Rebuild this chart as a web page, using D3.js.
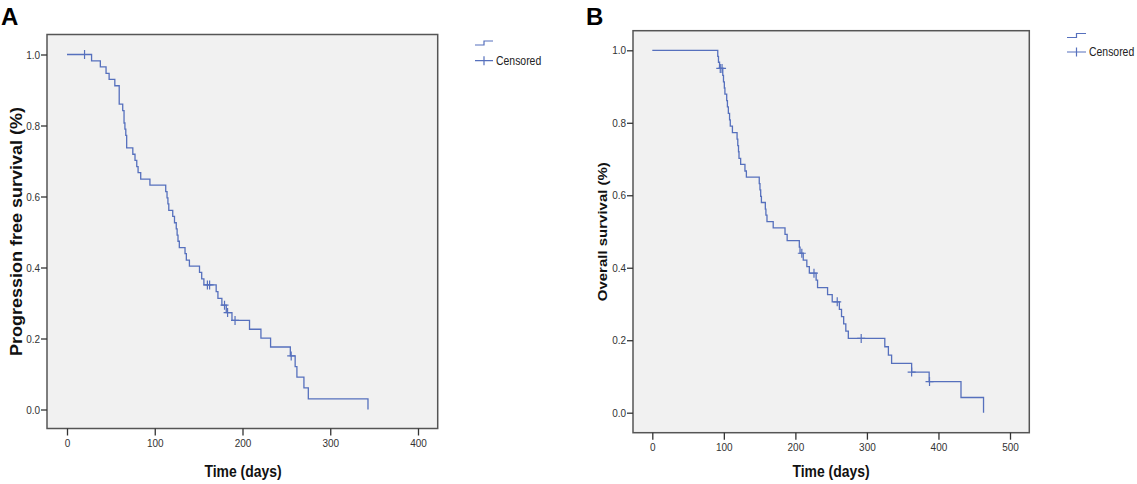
<!DOCTYPE html>
<html>
<head>
<meta charset="utf-8">
<script src="https://cdn.jsdelivr.net/npm/d3@7/dist/d3.min.js"></script>
<style>
  body { margin: 0; background: #fff; }
  svg { display: block; font-family: "Liberation Sans", Arial, sans-serif; }
</style>
</head>
<body>
<svg id="chart" width="1137" height="484"></svg>
<script>
// Panel A: progression free survival, step times (days) and survival after each step
const pfsTimes = [0, 28, 38, 44.5, 48, 54.5, 59.5, 63.5, 65, 66, 67, 68, 75, 77.5, 79.5, 81, 84, 94.5,
  112.5, 114, 115, 116, 120.5, 122.5, 124.5, 125.5, 126.5, 128, 134.5, 136, 139.5, 151, 153.5, 156,
  170, 172, 176.5, 181.5, 188, 208, 221, 232, 254.5, 260, 262, 270, 275, 343];
const pfsSurv = [1.0, 0.982, 0.965, 0.947, 0.930, 0.912, 0.860, 0.842, 0.807, 0.790, 0.772, 0.737, 0.719, 0.702, 0.684, 0.667, 0.649, 0.632,
  0.614, 0.596, 0.579, 0.561, 0.544, 0.526, 0.509, 0.491, 0.474, 0.456, 0.439, 0.421, 0.404, 0.386, 0.368, 0.351,
  0.332, 0.313, 0.294, 0.273, 0.251, 0.226, 0.201, 0.176, 0.151, 0.121, 0.091, 0.061, 0.030, 0.0];
const pfsCensorTimes = [20, 160, 162.5, 179.5, 183, 191.5, 255.5];
const pfsCensorSurv = [1.0, 0.351, 0.351, 0.294, 0.273, 0.251, 0.151];

// Panel B: overall survival
const osTimes = [0, 91.5, 92.5, 94, 98.5, 99.5, 100.7, 101.5, 104, 105, 106.3, 108, 109, 112, 118.5, 119.5, 120.5, 121.2, 123.5,
  129.5, 131.5, 149.5, 150.5, 151.5, 152.5, 158, 158.8, 160.3, 169, 185.5, 188.5, 205.5, 206.5, 211, 216, 219.5,
  229, 231, 245, 251.5, 261.5, 264.5, 267.5, 270.5, 274, 325, 330, 334.5, 362.5, 387, 431.5, 463];
const osSurv = [1.0, 0.983, 0.967, 0.950, 0.931, 0.913, 0.896, 0.879, 0.861, 0.844, 0.826, 0.808, 0.791, 0.773, 0.755, 0.737, 0.720, 0.702, 0.685,
  0.667, 0.650, 0.632, 0.615, 0.597, 0.580, 0.562, 0.545, 0.527, 0.510, 0.492, 0.475, 0.457, 0.440, 0.421, 0.403, 0.385,
  0.366, 0.345, 0.326, 0.306, 0.285, 0.265, 0.245, 0.225, 0.205, 0.182, 0.159, 0.136, 0.112, 0.086, 0.042, 0.0];
const osCensorTimes = [95, 97.5, 209, 226, 258.5, 292, 362.5, 387.5];
const osCensorSurv = [0.950, 0.950, 0.440, 0.385, 0.306, 0.205, 0.112, 0.086];

const pfsXTicks = [0, 100, 200, 300, 400];
const osXTicks = [0, 100, 200, 300, 400, 500];
const yTicks = [0.0, 0.2, 0.4, 0.6, 0.8, 1.0];

const lineColor = "#5670bd";
const squeeze = 0.87; // the reference text looks narrowed horizontally
const svg = d3.select("#chart");

function drawPanel(cfg) {
    const x = d3.scaleLinear().domain(cfg.xDomain).range([cfg.x0, cfg.x1]);
    const y = d3.scaleLinear().domain([0, 1]).range([cfg.y0, cfg.y1]);
    const f = cfg.frame;

    svg.append("rect")
        .attr("x", f.left)
        .attr("y", f.top)
        .attr("width", f.right - f.left)
        .attr("height", f.bottom - f.top)
        .attr("fill", "#f1f1f1")
        .attr("stroke", "#555")
        .attr("stroke-width", 1.5);

    // X axis
    const gx = svg.append("g")
        .attr("transform", `translate(0,${f.bottom})`)
        .call(d3.axisBottom(x).tickValues(cfg.xTicks).tickSize(7).tickPadding(3).tickFormat(d3.format("d")));
    gx.select(".domain").remove();
    gx.selectAll(".tick line").attr("stroke", "#333").attr("stroke-width", 1.3);
    gx.selectAll(".tick text")
        .attr("fill", "#333")
        .attr("transform", `scale(${squeeze},1)`)
        .style("font-size", "11.5px");

    // Y axis
    const gy = svg.append("g")
        .attr("transform", `translate(${f.left},0)`)
        .call(d3.axisLeft(y).tickValues(yTicks).tickSize(6).tickPadding(2).tickFormat(d3.format(".1f")));
    gy.select(".domain").remove();
    gy.selectAll(".tick line").attr("stroke", "#333").attr("stroke-width", 1.3);
    gy.selectAll(".tick text")
        .attr("fill", "#333")
        .attr("transform", `scale(${squeeze},1)`)
        .style("font-size", "11.5px");

    // Survival curve
    const pts = cfg.times.map((t, i) => [t, cfg.surv[i]]);
    const line = d3.line()
        .x(d => x(d[0]))
        .y(d => y(d[1]))
        .curve(d3.curveStepAfter);

    svg.append("path")
        .datum(pts)
        .attr("d", line)
        .attr("fill", "none")
        .attr("stroke", lineColor)
        .attr("stroke-width", 1.3);

    // Censor marks
    const cens = cfg.censT.map((t, i) => [t, cfg.censS[i]]);
    svg.append("g").selectAll("path")
        .data(cens)
        .enter().append("path")
        .attr("d", d => `M${x(d[0]) - 4},${y(d[1])}H${x(d[0]) + 4}M${x(d[0])},${y(d[1]) - 4.5}V${y(d[1]) + 4.5}`)
        .attr("stroke", lineColor)
        .attr("stroke-width", 1.2)
        .attr("fill", "none");

    // Titles
    svg.append("text")
        .attr("transform", `translate(${cfg.xTitleX},477) scale(${squeeze},1)`)
        .attr("text-anchor", "middle")
        .style("font-size", "16px")
        .style("font-weight", "bold")
        .attr("fill", "#111")
        .text("Time (days)");

    svg.append("text")
        .attr("transform", `translate(${cfg.yTitleX},${(f.top + f.bottom) / 2}) scale(${squeeze},1) rotate(-90)`)
        .attr("text-anchor", "middle")
        .style("font-size", cfg.yTitleSize)
        .style("font-weight", "bold")
        .attr("fill", "#111")
        .text(cfg.yTitle);

    svg.append("text")
        .attr("x", cfg.labelX)
        .attr("y", 25)
        .style("font-size", "24px")
        .style("font-weight", "bold")
        .attr("fill", "#000")
        .text(cfg.label);

    // Legend
    const lg = cfg.legend;
    svg.append("path")
        .attr("d", `M${lg.x},${lg.y + 4}H${lg.x + lg.w / 2}V${lg.y}H${lg.x + lg.w}`)
        .attr("stroke", lineColor)
        .attr("stroke-width", 1.2)
        .attr("fill", "none");
    svg.append("path")
        .attr("d", `M${lg.x},${lg.y + lg.gap}H${lg.x + lg.w}M${lg.x + lg.w / 2},${lg.y + lg.gap - 4.5}V${lg.y + lg.gap + 4.5}`)
        .attr("stroke", lineColor)
        .attr("stroke-width", 1.2)
        .attr("fill", "none");
    svg.append("text")
        .attr("transform", `translate(${lg.x + lg.w + 3},${lg.y + lg.gap + 4.3}) scale(${squeeze},1)`)
        .style("font-size", "12px")
        .attr("fill", "#222")
        .text("Censored");
}

drawPanel({
    label: "A", labelX: 1,
    times: pfsTimes, surv: pfsSurv, censT: pfsCensorTimes, censS: pfsCensorSurv,
    xDomain: [0, 400], x0: 67, x1: 418, y0: 409.5, y1: 54.5,
    frame: { left: 47, top: 34.5, right: 437.7, bottom: 428.5 },
    xTicks: pfsXTicks, xTitleX: 243,
    yTitle: "Progression free survival (%)", yTitleX: 22, yTitleSize: "18px",
    legend: { x: 475, y: 41, w: 18, gap: 19.7 }
});

drawPanel({
    label: "B", labelX: 586,
    times: osTimes, surv: osSurv, censT: osCensorTimes, censS: osCensorSurv,
    xDomain: [0, 500], x0: 652.3, x1: 1010, y0: 412.7, y1: 50.3,
    frame: { left: 633, top: 30.7, right: 1029.3, bottom: 432.7 },
    xTicks: osXTicks, xTitleX: 831,
    yTitle: "Overall survival (%)", yTitleX: 607, yTitleSize: "15px",
    legend: { x: 1067, y: 33.5, w: 19, gap: 18.5 }
});
</script>
</body>
</html>
